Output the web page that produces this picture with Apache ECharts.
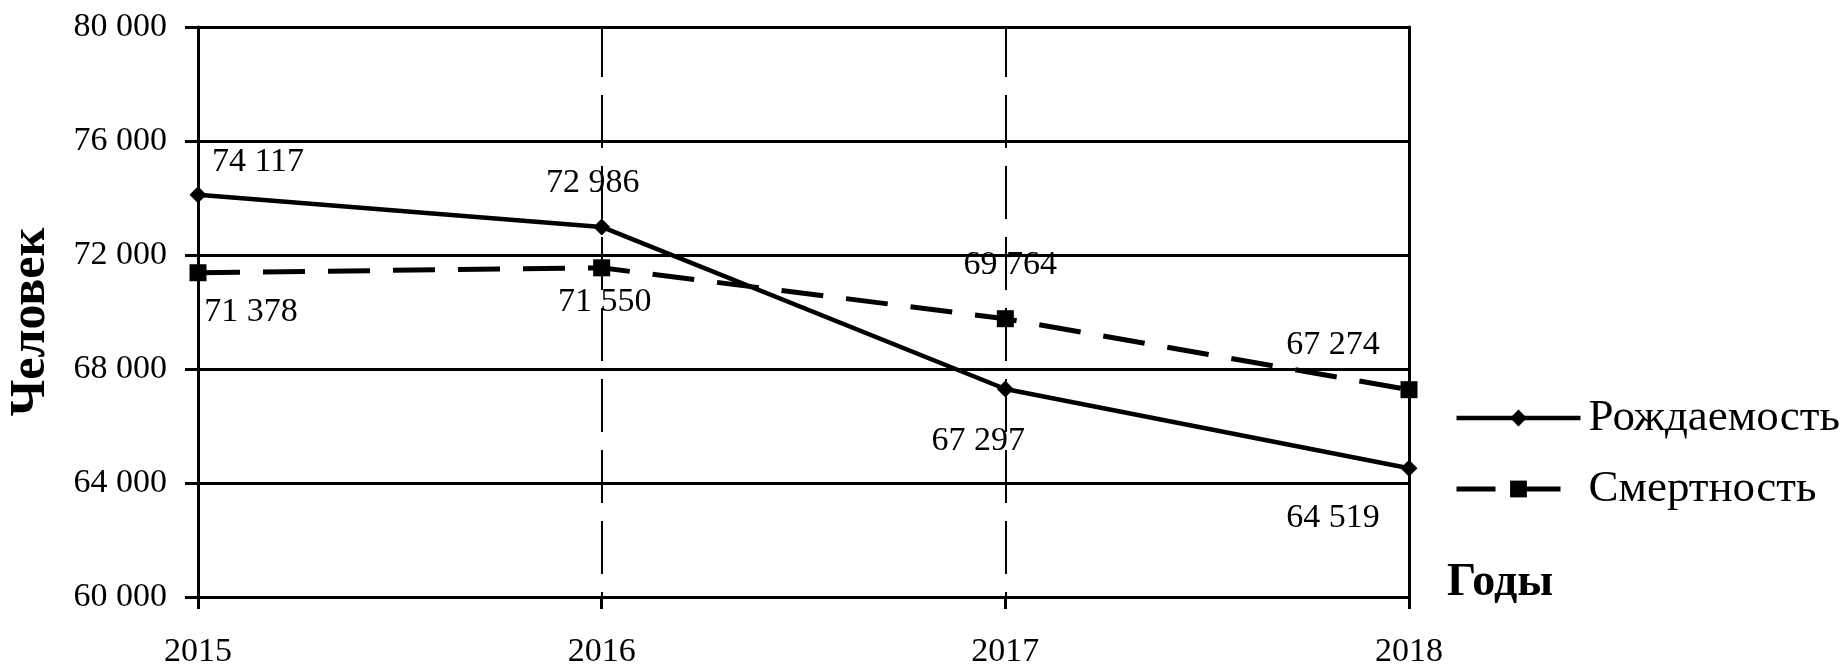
<!DOCTYPE html>
<html>
<head>
<meta charset="utf-8">
<script src="https://cdn.jsdelivr.net/npm/echarts@6/dist/echarts.min.js"></script>
<style>
html,body{margin:0;padding:0;background:#fff;}
#chart{width:1845px;height:669px;}
</style>
</head>
<body>
<div id="chart"></div>
<script>
// ---- data ----
var years = ['2015', '2016', '2017', '2018'];
var birthName = 'Рождаемость';
var deathName = 'Смертность';
var birthValues = [74117, 72986, 67297, 64519];
var deathValues = [71378, 71550, 69764, 67274];
var yTicks = [60000, 64000, 68000, 72000, 76000, 80000];
var yTitle = 'Человек';
var xTitle = 'Годы';

// ---- label placement (layout only) ----
var birthLabelOffsets = [[60, -33], [-9, -44], [-27, 52], [-76, 50]];
var deathLabelOffsets = [[53, 39], [3, 34], [5, -54], [-76, -45]];

function fmt(v) {
  return String(v).replace(/\B(?=(\d{3})+(?!\d))/g, ' ');
}
var FONT = 'Liberation Serif';
var birthLine = { color: '#000', width: 4.5, type: 'solid' };
var deathLine = { color: '#000', width: 5, type: [42, 23] };

function buildData(values, offsets) {
  return values.map(function (v, i) {
    return {
      value: v,
      label: { offset: offsets[i] }
    };
  });
}

var chart = echarts.init(document.getElementById('chart'));
var option = {
  backgroundColor: '#fff',
  animation: false,
  grid: { left: 198, right: 436, top: 27, bottom: 72, containLabel: false },
  legend: {
    orient: 'vertical',
    left: 1449,
    top: 388,
    itemWidth: 124,
    itemHeight: 21,
    itemGap: 21,
    textStyle: { fontFamily: FONT, fontSize: 45, color: '#000', lineHeight: 50, padding: [0, 0, 0, 3] },
    data: [
      { name: birthName, lineStyle: { color: '#000', width: 4.5, type: 'solid' } },
      { name: deathName, lineStyle: { color: '#000', width: 5, type: [42, 23] } }
    ]
  },
  xAxis: {
    type: 'category',
    data: years,
    boundaryGap: false,
    axisLine: { show: true, lineStyle: { color: '#000', width: 3 } },
    axisTick: { show: true, alignWithLabel: true, length: 12, lineStyle: { color: '#000', width: 3 } },
    axisLabel: { fontFamily: FONT, fontSize: 34, color: '#000', margin: 38 },
    splitLine: { show: true, lineStyle: { color: '#000', width: 2, type: [53, 18], dashOffset: 3 } }
  },
  yAxis: [{
    type: 'value',
    min: yTicks[0],
    max: yTicks[yTicks.length - 1],
    interval: yTicks[1] - yTicks[0],
    axisLine: { show: true, lineStyle: { color: '#000', width: 3 } },
    axisTick: { show: true, length: 13, lineStyle: { color: '#000', width: 3 } },
    axisLabel: { fontFamily: FONT, fontSize: 34, color: '#000', margin: 31, formatter: function (v) { return fmt(v); } },
    splitLine: { show: true, lineStyle: { color: '#000', width: 3 } }
  }, {
    type: 'value',
    position: 'right',
    min: yTicks[0],
    max: yTicks[yTicks.length - 1],
    interval: yTicks[1] - yTicks[0],
    axisLine: { show: true, lineStyle: { color: '#000', width: 3 } },
    axisTick: { show: false },
    axisLabel: { show: false },
    splitLine: { show: false }
  }],
  series: [{
    name: birthName,
    type: 'line',
    data: buildData(birthValues, birthLabelOffsets),
    symbol: 'diamond',
    symbolSize: 17,
    lineStyle: birthLine,
    itemStyle: { color: '#000' },
    label: {
      show: true, position: 'inside',
      fontFamily: FONT, fontSize: 34, color: '#000',
      formatter: function (p) { return fmt(p.value); }
    },
    z: 3
  }, {
    name: deathName,
    type: 'line',
    data: buildData(deathValues, deathLabelOffsets),
    symbol: 'rect',
    symbolSize: 17,
    lineStyle: deathLine,
    itemStyle: { color: '#000' },
    label: {
      show: true, position: 'inside',
      fontFamily: FONT, fontSize: 34, color: '#000',
      formatter: function (p) { return fmt(p.value); }
    },
    z: 3
  }],
  graphic: [{
    type: 'text',
    x: 31, y: 322,
    rotation: Math.PI / 2,
    style: {
      text: yTitle, x: 0, y: 0,
      align: 'center', verticalAlign: 'middle',
      font: 'bold 50px "Liberation Serif"', fill: '#000'
    }
  }, {
    type: 'text',
    x: 1447, y: 583,
    style: {
      text: xTitle, x: 0, y: 0,
      align: 'left', verticalAlign: 'middle',
      font: 'bold 46px "Liberation Serif"', fill: '#000'
    }
  }]
};
chart.setOption(option);
</script>
</body>
</html>
